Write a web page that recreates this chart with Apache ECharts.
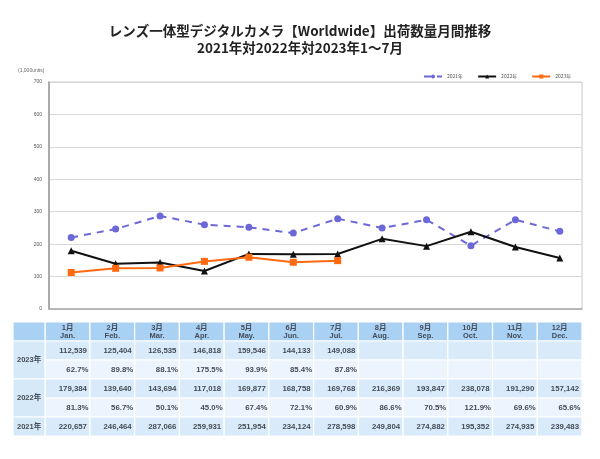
<!DOCTYPE html>
<html><head><meta charset="utf-8">
<script src="https://cdn.jsdelivr.net/npm/echarts@6/dist/echarts.min.js"></script>
<style>html,body{margin:0;padding:0;background:#fff}#c{width:600px;height:459px}</style>
</head><body><div id="c"></div>
<script>
const monthsJa = ['1月','2月','3月','4月','5月','6月','7月','8月','9月','10月','11月','12月'];
const monthsEn = ['Jan.','Feb.','Mar.','Apr.','May.','Jun.','Jul.','Aug.','Sep.','Oct.','Nov.','Dec.'];
const seriesNames = ['2021年','2022年','2023年'];
const v2021 = [220657,246464,287066,259931,251954,234124,278598,249804,274882,195352,274935,239483];
const v2022 = [179384,139640,143694,117018,169877,168758,169768,216369,193847,238078,191290,157142];
const v2023 = [112539,125404,126535,146818,159546,144133,149088];
const p2022 = ['81.3%','56.7%','50.1%','45.0%','67.4%','72.1%','60.9%','86.6%','70.5%','121.9%','69.6%','65.6%'];
const p2023 = ['62.7%','89.8%','88.1%','175.5%','93.9%','85.4%','87.8%'];
const yTicks = [0,100000,200000,300000,400000,500000,600000,700000];

const fmt = v => v.toLocaleString('en-US');
const FONT = '"Noto Sans CJK JP", "Noto Sans", sans-serif';
const TFONT = '"Liberation Sans", "Noto Sans CJK JP", sans-serif';

// table cells
const C_HEAD = '#a9d1f3', C_VAL = '#d9ebfa', C_PCT = '#ecf5fd', C_LAB = '#d6e9f9';
const cells = [];
cells.push({x0:-0.72,x1:0,y0:0,y1:1,fill:C_HEAD,lines:[]});
monthsJa.forEach((m,i)=>cells.push({x0:i,x1:i+1,y0:0,y1:1,fill:C_HEAD,lines:[m,monthsEn[i]],kind:'head'}));
cells.push({x0:-0.72,x1:0,y0:1,y1:3,fill:C_LAB,lines:['2023年'],kind:'lab'});
cells.push({x0:-0.72,x1:0,y0:3,y1:5,fill:C_LAB,lines:['2022年'],kind:'lab'});
cells.push({x0:-0.72,x1:0,y0:5,y1:6,fill:C_LAB,lines:['2021年'],kind:'lab'});
for (let i=0;i<12;i++){
  cells.push({x0:i,x1:i+1,y0:1,y1:2,fill:C_VAL,lines:[v2023[i]!==undefined?fmt(v2023[i]):''],kind:'val'});
  cells.push({x0:i,x1:i+1,y0:2,y1:3,fill:C_PCT,lines:[p2023[i]||''],kind:'pct'});
  cells.push({x0:i,x1:i+1,y0:3,y1:4,fill:C_VAL,lines:[fmt(v2022[i])],kind:'val'});
  cells.push({x0:i,x1:i+1,y0:4,y1:5,fill:C_PCT,lines:[p2022[i]],kind:'pct'});
  cells.push({x0:i,x1:i+1,y0:5,y1:6,fill:C_VAL,lines:[fmt(v2021[i])],kind:'val'});
}

function renderCell(params, api){
  const c = cells[params.dataIndex];
  const a = api.coord([c.x0, c.y0]);
  const b = api.coord([c.x1, c.y1]);
  const x = a[0], y = a[1], w = b[0]-a[0], h = b[1]-a[1];
  const children = [{type:'rect', shape:{x:x, y:y, width:w, height:h},
    style:{fill:c.fill, stroke:'#ffffff', lineWidth:1.2}}];
  const base = {fill:'#454b57', fontFamily:TFONT, fontSize:7.8, fontWeight:'bold'};
  if (c.kind==='head'){
    children.push({type:'text', style:Object.assign({}, base, {text:c.lines[0], x:x+w/2, y:y+h/2-4, align:'center', verticalAlign:'middle', fontSize:7.5})});
    children.push({type:'text', style:Object.assign({}, base, {text:c.lines[1], x:x+w/2, y:y+h/2+4, align:'center', verticalAlign:'middle', fontSize:7.5})});
  } else if (c.kind==='lab'){
    children.push({type:'text', style:Object.assign({}, base, {text:c.lines[0], x:x+w/2, y:y+h/2, align:'center', verticalAlign:'middle', fontSize:7.5})});
  } else if (c.kind==='val'){
    children.push({type:'text', style:Object.assign({}, base, {text:c.lines[0], x:x+w-3, y:y+h/2, align:'right', verticalAlign:'middle'})});
  } else if (c.kind==='pct'){
    children.push({type:'text', style:Object.assign({}, base, {text:c.lines[0], x:x+w-1.5, y:y+h/2, align:'right', verticalAlign:'middle'})});
  }
  return {type:'group', children};
}

const chart = echarts.init(document.getElementById('c'), null, {renderer:'canvas'});
chart.setOption({
  backgroundColor:'#fff',
  animation:false,
  title:{
    text:'レンズ一体型デジタルカメラ【Worldwide】出荷数量月間推移\n2021年対2022年対2023年1～7月',
    left:'center', top:17,
    textStyle:{fontFamily:FONT, fontSize:13.5, fontWeight:'bold', color:'#222', lineHeight:17}
  },
  graphic:[{type:'text', left:18, top:68, style:{text:'(1,000units)', fontSize:5, fill:'#666', fontFamily:TFONT}}],
  legend:{
    data:seriesNames, left:418, top:69, itemWidth:18, itemHeight:5, itemGap:14,
    textStyle:{fontSize:5, color:'#555', fontFamily:FONT}
  },
  grid:[
    {left:49, right:18, top:82, bottom:150, show:true, borderColor:'#c8c8c8', borderWidth:1},
    {left:13, right:18, top:322, height:114}
  ],
  xAxis:[
    {type:'category', gridIndex:0, data:monthsJa, boundaryGap:true,
     axisLine:{lineStyle:{color:'#aaa', width:1.5}}, axisTick:{show:false}, axisLabel:{show:false}},
    {type:'value', gridIndex:1, min:-0.72, max:12, show:false}
  ],
  yAxis:[
    {type:'value', gridIndex:0, min:0, max:700000, interval:100000,
     axisLine:{show:true, lineStyle:{color:'#999', width:1.5}}, axisTick:{show:false},
     splitLine:{lineStyle:{color:'#d8d8d8', width:1}},
     axisLabel:{fontSize:5, color:'#555', margin:7, fontFamily:TFONT, formatter:v=>String(v/1000)}},
    {type:'value', gridIndex:1, min:0, max:6, inverse:true, show:false}
  ],
  series:[
    {name:seriesNames[0], type:'line', xAxisIndex:0, yAxisIndex:0, data:v2021,
     lineStyle:{color:'#6c68d8', width:2, type:[7,6]}, itemStyle:{color:'#6c68d8'},
     symbol:'circle', symbolSize:7, z:2},
    {name:seriesNames[1], type:'line', xAxisIndex:0, yAxisIndex:0, data:v2022,
     lineStyle:{color:'#111', width:2}, itemStyle:{color:'#111'},
     symbol:'triangle', symbolSize:7, z:3},
    {name:seriesNames[2], type:'line', xAxisIndex:0, yAxisIndex:0, data:v2023,
     lineStyle:{color:'#ff6a10', width:2}, itemStyle:{color:'#ff6a10'},
     symbol:'rect', symbolSize:7, z:4},
    {type:'custom', xAxisIndex:1, yAxisIndex:1, renderItem:renderCell,
     encode:{x:[0,1], y:[2,3]}, silent:true,
     data:cells.map(c=>[c.x0,c.x1,c.y0,c.y1])}
  ]
});
</script></body></html>
